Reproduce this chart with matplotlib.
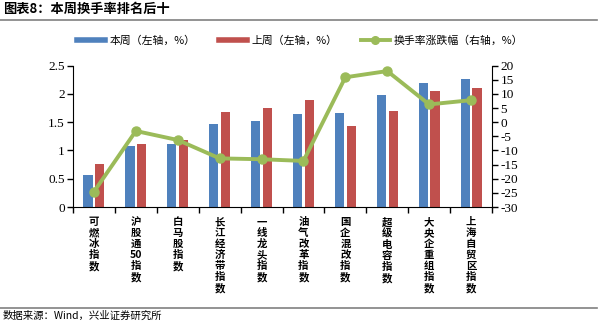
import numpy as np
import matplotlib
matplotlib.use("Agg")
from matplotlib import pyplot as plt
from matplotlib.lines import Line2D

plt.rcParams['font.family'] = ['Noto Sans CJK SC', 'DejaVu Sans']

categories = ["可燃冰指数", "沪股通50指数", "白马股指数", "长江经济带指数", "一线龙头指数",
              "油气改革指数", "国企混改指数", "超级电容指数", "大央企重组指数", "上海自贸区指数"]
this_week = [0.57, 1.08, 1.11, 1.46, 1.53, 1.64, 1.66, 1.99, 2.19, 2.27]
last_week = [0.76, 1.12, 1.18, 1.68, 1.76, 1.89, 1.44, 1.70, 2.06, 2.11]
change_pct = [-24.6, -3.1, -6.3, -12.8, -13.1, -13.7, 15.9, 18.1, 6.3, 7.8]

BLUE = "#4F81BD"
RED = "#C0504D"
GREEN = "#9BBB59"
NUM_FONT = "Liberation Serif"


def vertical(label):
    # stack characters top to bottom, keep digit runs together
    parts = []
    i = 0
    while i < len(label):
        if label[i].isdigit():
            j = i
            while j < len(label) and label[j].isdigit():
                j += 1
            parts.append(label[i:j])
            i = j
        else:
            parts.append(label[i])
            i += 1
    return "\n".join(parts)


fig = plt.figure(figsize=(6.0, 3.23), dpi=100)
ax = fig.add_axes([73 / 600, 1 - 207 / 323, (492 - 73) / 600, (207 - 65.7) / 323])
ax2 = ax.twinx()

x = np.arange(len(categories))
w = 0.22
ax.bar(x - 0.14, this_week, w, color=BLUE, zorder=2)
ax.bar(x + 0.14, last_week, w, color=RED, zorder=2)
ax2.plot(x, change_pct, color=GREEN, linewidth=2.8, marker="o", markersize=6.5, zorder=3)

ax.set_xlim(-0.5, len(categories) - 0.5)
ax.set_ylim(0, 2.5)
ax.set_yticks([0, 0.5, 1, 1.5, 2, 2.5])
ax.set_yticklabels(["0", "0.5", "1", "1.5", "2", "2.5"], fontfamily=NUM_FONT, fontsize=9.5)
ax2.set_ylim(-30, 20)
ax2.set_yticks(range(-30, 21, 5))
ax2.set_yticklabels([str(v) for v in range(-30, 21, 5)], fontfamily=NUM_FONT, fontsize=9.5)

ax.set_xticks(np.arange(-0.5, len(categories), 1))
ax.set_xticklabels([])
ax.tick_params(axis="x", direction="out", length=4, width=1)
for xi, lab in zip(x, categories):
    ax.text(xi, -0.18, vertical(lab), ha="center", va="top", fontsize=7.5,
            fontweight="bold", linespacing=1.12, transform=ax.transData)

ax.tick_params(axis="y", direction="out", length=4, width=1, pad=2, colors="black")
ax2.tick_params(axis="y", direction="out", length=4, width=1, pad=2)
ax.spines["top"].set_visible(False)
ax2.spines["top"].set_visible(False)
ax.spines["right"].set_visible(False)
ax2.spines["left"].set_visible(False)
ax2.spines["bottom"].set_visible(False)

handles = [Line2D([0], [0], color=BLUE, linewidth=4),
           Line2D([0], [0], color=RED, linewidth=4),
           Line2D([0], [0], color=GREEN, linewidth=2.8, marker="o", markersize=5.5)]
fig.legend(handles, ["本周（左轴，%）", "上周（左轴，%）", "换手率涨跌幅（右轴，%）"],
           loc="center", bbox_to_anchor=(0.5, 1 - 41 / 323), ncol=3, frameon=False,
           fontsize=7.8, handlelength=2.6, columnspacing=2.2, handletextpad=0.4)

fig.text(0.005, 1 - 9 / 323, "图表8：本周换手率排名后十", fontsize=9.5, fontweight="bold",
         ha="left", va="center")
fig.add_artist(Line2D([0, 0.995], [1 - 20 / 323, 1 - 20 / 323], color="#808080", linewidth=1.2))
fig.add_artist(Line2D([0, 0.995], [1 - 308 / 323, 1 - 308 / 323], color="#808080", linewidth=1.2))
fig.text(0.005, 1 - 316 / 323, "数据来源：Wind，兴业证券研究所", fontsize=7.5, ha="left", va="center")

fig.savefig("out.png", dpi=100)
